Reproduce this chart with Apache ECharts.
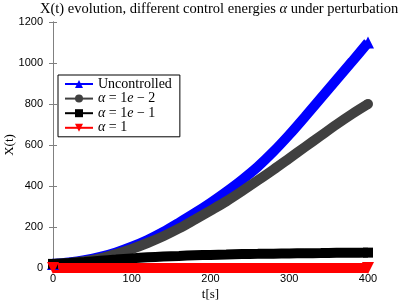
<!DOCTYPE html>
<html>
<head>
<meta charset="utf-8">
<script src="https://cdn.jsdelivr.net/npm/echarts@6/dist/echarts.min.js"></script>
<style>
html,body{margin:0;padding:0;background:#fff;}
#chart{width:407px;height:303px;}
</style>
</head>
<body>
<div id="chart"></div>
<script>
const titleText = 'X(t) evolution, different control energies {a|α} under perturbation';
const xTicks = [0, 100, 200, 300, 400];
const yTicks = [0, 200, 400, 600, 800, 1000, 1200];
const seriesNames = ['Uncontrolled', 'α = 1e − 2', 'α = 1e − 1', 'α = 1'];
const tValues = [0, 20, 40, 60, 80, 100, 120, 140, 160, 180, 200, 220, 240, 260, 280, 300, 320, 340, 360, 380, 400];
const uncontrolled = [20, 27, 38, 54, 76, 104, 137, 176, 221, 268, 318, 372, 430, 494, 568, 650, 738, 828, 918, 1008, 1100];
const alpha1e2 = [20, 25, 33, 47, 68, 93, 122, 155, 193, 236, 280, 325, 375, 427, 480, 535, 590, 645, 700, 752, 800];
const alpha1e1 = [20, 24, 29, 35, 41, 47, 52, 56, 59, 62, 64, 66, 68, 69, 70, 71, 72, 73, 74, 74.5, 75];
const alpha1 = [0, 0, 0, 0, 0, 0, 0, 0, 0, 0, 0, 0, 0, 0, 0, 0, 0, 0, 0, 0, 0];

const serif = 'Liberation Serif';
const sans = 'Liberation Sans';

function build(vals, sym) {
  const last = vals.length - 1;
  return vals.map((v, i) => ({
    value: [tValues[i], v],
    symbol: (i === 0 || i === last) ? sym : 'none'
  }));
}

const specs = [
  {name: seriesNames[0], vals: uncontrolled, color: '#0000ff', symbol: 'triangle', rotate: 0, size: 12},
  {name: seriesNames[1], vals: alpha1e2, color: '#404040', symbol: 'circle', rotate: 0, size: 10},
  {name: seriesNames[2], vals: alpha1e1, color: '#000000', symbol: 'rect', rotate: 0, size: 10},
  {name: seriesNames[3], vals: alpha1, color: '#ff0000', symbol: 'triangle', rotate: 180, size: 12}
];

const axisCommon = {
  type: 'value',
  splitLine: {show: false},
  axisTick: {inside: true, length: 4, lineStyle: {color: '#808080', width: 1}},
  axisLine: {show: true, lineStyle: {color: '#808080', width: 1}}
};

const chart = echarts.init(document.getElementById('chart'), null, {renderer: 'canvas'});
chart.setOption({
  animation: false,
  backgroundColor: '#ffffff',
  title: {
    text: titleText,
    left: 35,
    top: -3,
    textStyle: {
      fontFamily: serif, fontSize: 14.5, fontWeight: 'normal', color: '#000',
      rich: {a: {fontFamily: serif, fontSize: 14.5, fontStyle: 'italic', color: '#000'}}
    }
  },
  grid: {left: 53, right: 39, top: 22, bottom: 35, containLabel: false, outerBoundsMode: 'none'},
  legend: {
    left: 58, top: 75,
    orient: 'vertical',
    itemWidth: 28, itemHeight: 10, itemGap: 0.6,
    padding: [2, 8, 2, 6],
    backgroundColor: '#ffffff',
    borderColor: '#000000', borderWidth: 1, borderRadius: 0,
    lineStyle: {width: 2},
    textStyle: {
      fontFamily: serif, fontSize: 14, color: '#000', lineHeight: 14,
      rich: {i: {fontFamily: serif, fontSize: 14, fontStyle: 'italic', color: '#000', lineHeight: 14}}
    },
    formatter: function (name) {
      return name.replace(/α/g, '{i|α}').replace(/1e/g, '1{i|e}');
    },
    data: seriesNames
  },
  xAxis: [
    Object.assign({}, axisCommon, {
      position: 'bottom', min: xTicks[0], max: xTicks[xTicks.length - 1], interval: 100,
      name: 't[s]', nameLocation: 'middle', nameGap: 20, nameMoveOverlap: false,
      nameTextStyle: {fontFamily: serif, fontSize: 13, color: '#000'},
      axisLabel: {fontFamily: sans, fontSize: 11, color: '#000', margin: 5, formatter: v => String(v)}
    }),
    Object.assign({}, axisCommon, {
      position: 'top', min: xTicks[0], max: xTicks[xTicks.length - 1], interval: 100,
      axisLabel: {show: false},
      axisLine: {show: true, lineStyle: {color: '#262626', width: 1}}
    })
  ],
  yAxis: [
    Object.assign({}, axisCommon, {
      position: 'left', min: yTicks[0], max: yTicks[yTicks.length - 1], interval: 200,
      name: 'X(t)', nameLocation: 'middle', nameGap: 37, nameMoveOverlap: false,
      nameTextStyle: {fontFamily: serif, fontSize: 13, color: '#000'},
      axisLabel: {fontFamily: sans, fontSize: 11, color: '#000', margin: 10, formatter: v => String(v)}
    }),
    Object.assign({}, axisCommon, {
      position: 'right', min: yTicks[0], max: yTicks[yTicks.length - 1], interval: 200,
      axisLabel: {show: false}
    })
  ],
  series: specs.map(s => ({
    name: s.name,
    type: 'line',
    xAxisIndex: 0, yAxisIndex: 0,
    data: build(s.vals, s.symbol),
    symbol: s.symbol,
    symbolRotate: s.rotate,
    symbolSize: s.size,
    showSymbol: true,
    clip: false,
    smooth: 0.3,
    color: s.color,
    lineStyle: {color: s.color, width: 10},
    itemStyle: {color: s.color},
    emphasis: {disabled: true}
  }))
});
</script>
</body>
</html>
